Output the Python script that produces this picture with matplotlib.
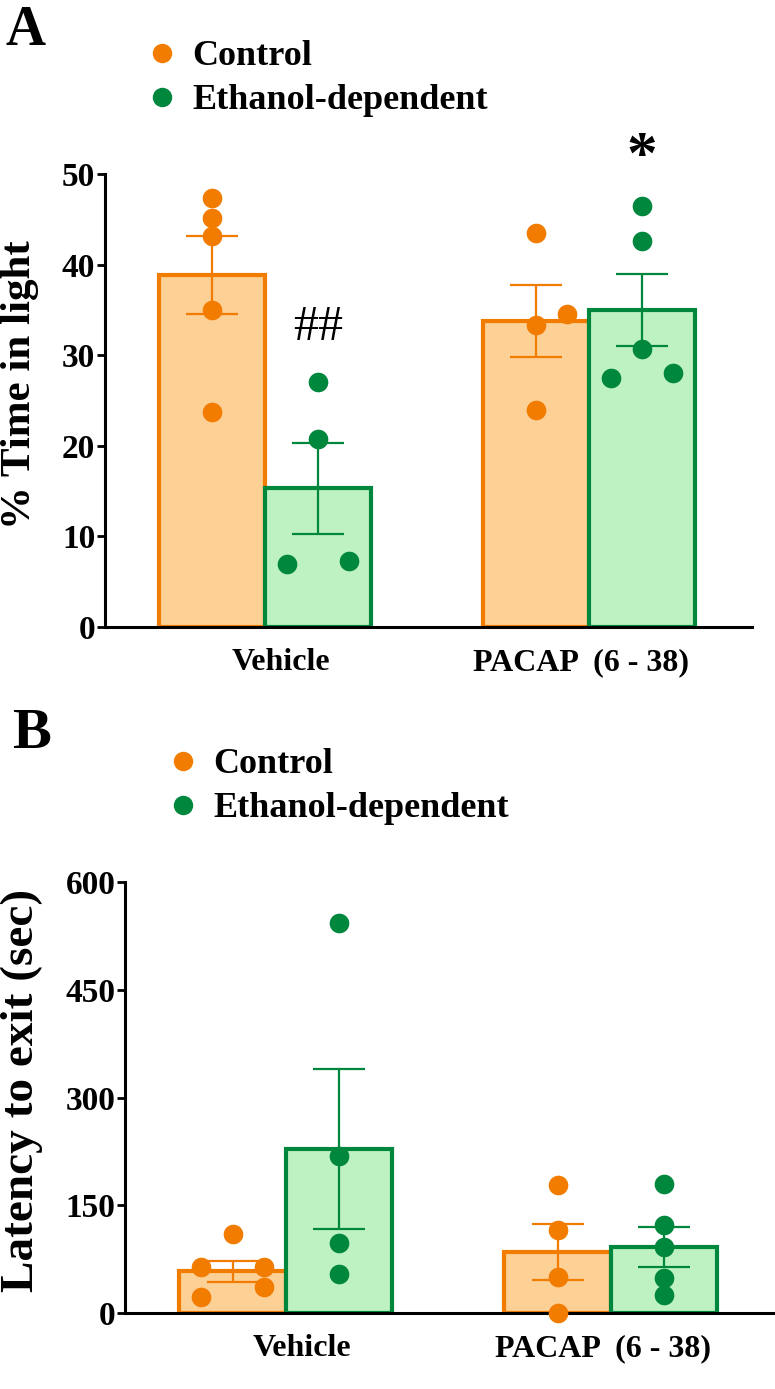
import numpy as np
import matplotlib
matplotlib.use("Agg")
import matplotlib.pyplot as plt
from matplotlib.lines import Line2D

plt.rcParams['font.family'] = ['Liberation Serif', 'DejaVu Serif']
plt.rcParams['font.weight'] = 'bold'

groups = ["Vehicle", "PACAP  (6 - 38)"]
series = ["Control", "Ethanol-dependent"]

# panel A - % time in light
a_ctrl_mean = [38.9, 33.8]
a_ctrl_sem = [4.3, 4.0]
a_etoh_mean = [15.3, 35.0]
a_etoh_sem = [5.0, 4.0]
a_ctrl_pts = [[47.3, 45.1, 43.2, 35.0, 23.7], [43.5, 33.3, 34.6, 23.9]]
a_etoh_pts = [[27.0, 20.8, 6.9, 7.3], [46.5, 42.6, 30.7, 27.5, 28.0]]

# panel B - latency to exit (sec)
b_ctrl_mean = [58, 85]
b_ctrl_sem = [15, 39]
b_etoh_mean = [228, 92]
b_etoh_sem = [111, 28]
b_ctrl_pts = [[110, 64, 64, 36, 22], [178, 116, 50, 0]]
b_etoh_pts = [[543, 219, 97, 54], [180, 123, 92, 49, 25]]

# horizontal jitter of the dots (fraction of group spacing)
j = 0.096
a_ctrl_jit = [[0, 0, 0, 0, 0], [0, 0, j, 0]]
a_etoh_jit = [[0, 0, -j, j], [0, 0, 0, -j, j]]
b_ctrl_jit = [[0, -j, j, j, -j], [0, 0, 0, 0]]
b_etoh_jit = [[0, 0, 0, 0], [0, 0, 0, 0, 0]]

orange, orange_fill = '#F27C00', '#FDD096'
green, green_fill = '#00873E', '#BFF2C3'
bw = 0.328


def panel(ax, cm, cs, em, es, cp, ep, cj, ej, ymax, step):
    x = np.arange(len(groups))
    specs = [(-bw / 2, cm, cs, cp, cj, orange, orange_fill),
             (bw / 2, em, es, ep, ej, green, green_fill)]
    for off, m, s, pts, jit, col, fill in specs:
        ax.bar(x + off, m, bw, color=fill, edgecolor=col, linewidth=3, zorder=1)
        ax.errorbar(x + off, m, yerr=s, fmt='none', ecolor=col, elinewidth=1.6,
                    capsize=19, capthick=1.6, zorder=2)
        for i in range(len(groups)):
            xs = x[i] + off + np.array(jit[i])
            ax.scatter(xs, pts[i], s=200, color=col, linewidths=0, zorder=3, clip_on=False)
    ax.set_xlim(-0.495, 1.505)
    ax.set_ylim(0, ymax)
    ax.set_yticks(np.arange(0, ymax + 1, step))
    ax.set_xticks(x + np.array([0.05, -0.025]))
    ax.set_xticklabels(groups)
    ax.spines['top'].set_visible(False)
    ax.spines['right'].set_visible(False)
    ax.spines['left'].set_linewidth(2.2)
    ax.spines['bottom'].set_linewidth(2.2)
    ax.tick_params(axis='y', length=6, width=2, pad=1, labelsize=24)
    ax.tick_params(axis='x', length=0, pad=15, labelsize=23)
    for t in ax.get_yticklabels() + ax.get_xticklabels():
        t.set_fontweight('bold')


def legend(fig, xf, yf):
    handles = [Line2D([], [], ls='none', marker='o', ms=14, color=orange, mew=0),
               Line2D([], [], ls='none', marker='o', ms=14, color=green, mew=0)]
    fig.legend(handles, series, loc='upper left', bbox_to_anchor=(xf, yf),
               frameon=False, handletextpad=0.33, labelspacing=0.3,
               handlelength=1.0, borderaxespad=0, borderpad=0,
               prop={'weight': 'bold', 'size': 26})


W, H = 775, 1389
fig = plt.figure(figsize=(W / 100, H / 100), dpi=100)

axA = fig.add_axes([105 / W, 1 - 627 / H, 647 / W, 453 / H])
panel(axA, a_ctrl_mean, a_ctrl_sem, a_etoh_mean, a_etoh_sem,
      a_ctrl_pts, a_etoh_pts, a_ctrl_jit, a_etoh_jit, 50, 10)
axA.text(bw / 2, 33.0, '##', ha='center', va='center', fontsize=36, fontweight='normal')
axA.text(1 + bw / 2, 51.8, '*', ha='center', va='center', fontsize=44)

axB = fig.add_axes([125 / W, 1 - 1313 / H, 650 / W, 431 / H])
panel(axB, b_ctrl_mean, b_ctrl_sem, b_etoh_mean, b_etoh_sem,
      b_ctrl_pts, b_etoh_pts, b_ctrl_jit, b_etoh_jit, 600, 150)

fig.text(20 / W, 1 - 385 / H, '% Time in light', rotation=90, ha='center', va='center',
         fontsize=31, fontweight='bold')
fig.text(22 / W, 1 - 1090 / H, 'Latency to exit (sec)', rotation=90, ha='center',
         va='center', fontsize=34, fontweight='bold')

fig.text(5 / W, 1 - 5 / H, 'A', ha='left', va='top', fontsize=40, fontweight='bold')
fig.text(12 / W, 1 - 708 / H, 'B', ha='left', va='top', fontsize=42, fontweight='bold')

legend(fig, 144 / W, 1 - 40 / H)
legend(fig, 165 / W, 1 - 748 / H)

fig.savefig('out.png', dpi=100)
